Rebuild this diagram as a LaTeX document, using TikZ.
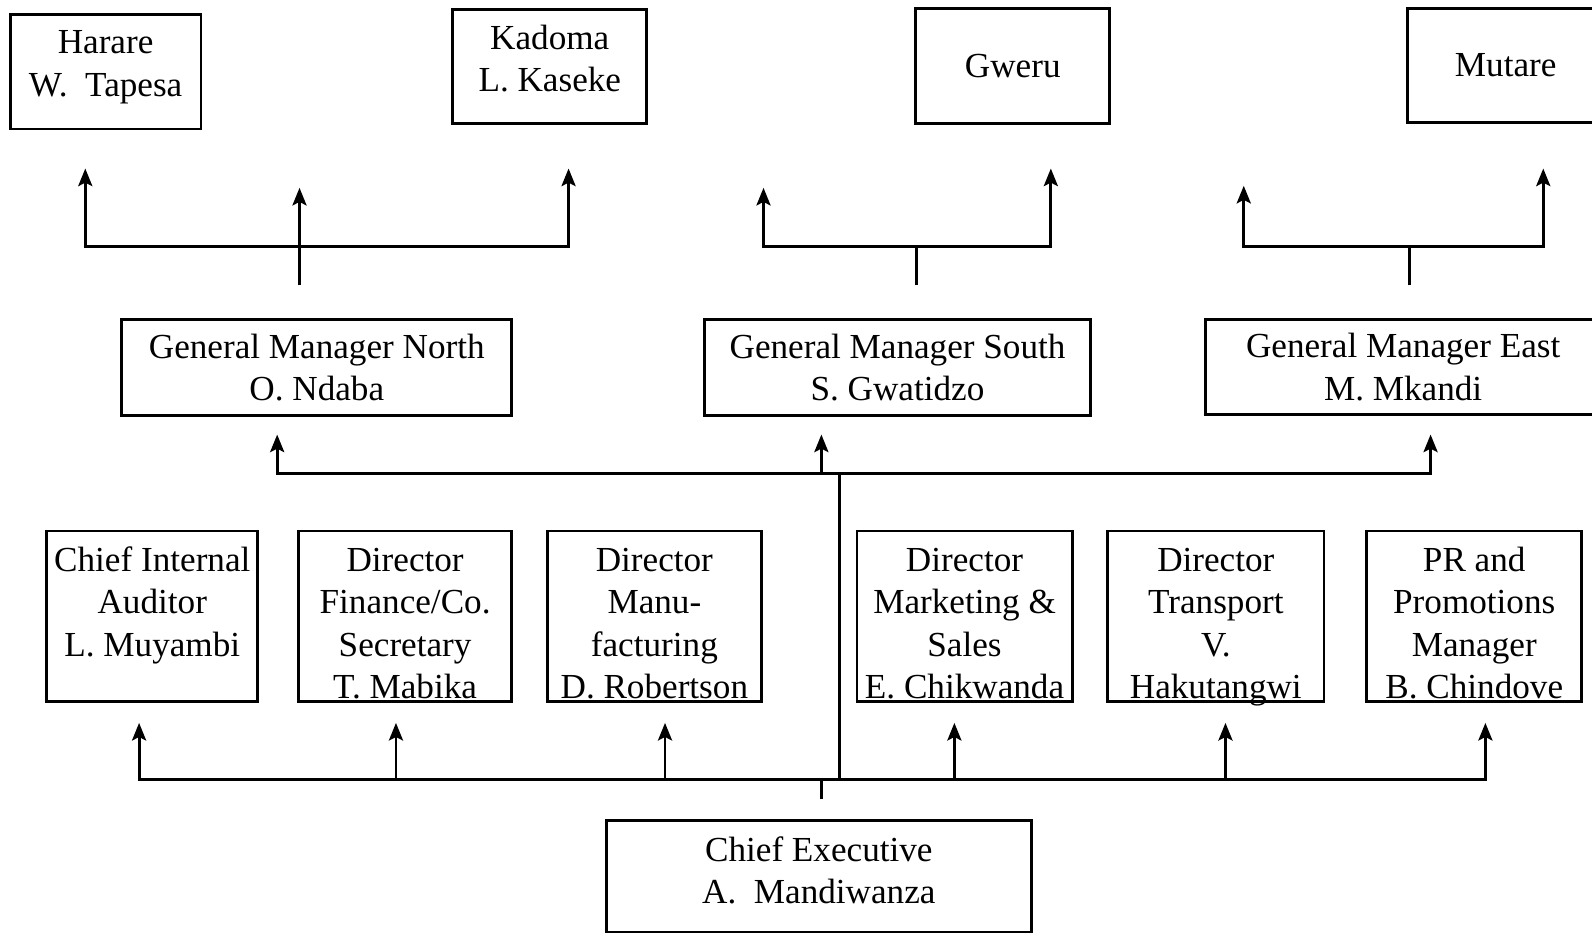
\documentclass[tikz,border=0pt]{standalone}
\usepackage{fontspec}
\setmainfont{Liberation Serif}
\usetikzlibrary{arrows.meta}
\tikzstyle{box}=[draw, thick, shape=rectangle, align=center, inner sep=0pt, font=\fontsize{10}{12.1}\selectfont]
\tikzstyle{link}=[thick]
\tikzset{>={Stealth[length=5pt, width=4pt, inset=1pt]}}
\newcommand{\px}{0.1015mm}

\begin{document}
\begin{tikzpicture}[x=\px, y=-\px]
\useasboundingbox (0,0) rectangle (1568,921);
\clip (0,0) rectangle (1568,921);

% branches
\node[box, text depth=4.6pt, minimum width=188*\px, minimum height=113*\px] (harare) at (104,70.5) {Harare\\W.~~Tapesa};
\node[box, text depth=4.6pt, minimum width=191*\px, minimum height=113*\px] (kadoma) at (541.5,65.5) {Kadoma\\L. Kaseke};
\node[box, minimum width=191*\px, minimum height=114*\px] (gweru) at (997.5,65) {Gweru};
\node[box, minimum width=194*\px, minimum height=113*\px] (mutare) at (1483,64.5) {Mutare};

% general managers
\node[box, minimum width=384*\px, minimum height=94*\px] (gmn) at (312,362) {General Manager North\\O. Ndaba};
\node[box, minimum width=380*\px, minimum height=94*\px] (gms) at (884,362) {General Manager South\\S. Gwatidzo};
\node[box, minimum width=390*\px, minimum height=93*\px] (gme) at (1382,361.5) {General Manager East\\M. Mkandi};

% directors
\foreach \nm/\x/\w/\txt in {cia/150/208/{Chief Internal\\Auditor\\L. Muyambi\\~},
  fin/399/210/{Director\\Finance/Co.\\Secretary\\T. Mabika},
  man/644.5/211/{Director\\Manu-\\facturing\\D. Robertson},
  mkt/950/212/{Director\\Marketing \&\\Sales\\E. Chikwanda},
  trn/1197.5/213/{Director\\Transport\\V.\\Hakutangwi},
  pr/1452/212/{PR and\\Promotions\\Manager\\B. Chindove}}
  \node[box, text height=47pt, text depth=0pt, minimum width=\w*\px, minimum height=168*\px] (\nm) at (\x,607) {\txt};

\node[box, text depth=3.4pt, minimum width=419*\px, minimum height=110*\px] (ceo) at (806.5,863) {Chief Executive\\A.~~Mandiwanza};

% corner points of the connectors
\foreach \nm/\x/\y in {nft/295/281, nmd/295/243, nl/84/243, nr/560/243, nlt/84/166, nmt/295/185, nrt/560/166,
  sft/903/281, smd/903/243, sl/752/243, sr/1035/243, slt/752/185, srt/1035/166,
  eft/1388/281, emd/1388/243, el/1225/243, er/1520/243, elt/1225/183, ert/1520/166,
  gl/273/466, gr/1409/466, glt/273/428, grt/1409/428, gmd/809/466, gmt/809/428,
  tt/827/466, tb/827/768, cft/809/787, cmd/809/768}
  \coordinate (\nm) at (\x,\y);
\foreach \i/\x in {1/137, 2/390, 3/655, 4/940, 5/1207, 6/1463}
{
\coordinate (b\i) at (\x,768);
\coordinate (bt\i) at (\x,712);
}

% north
\draw[link, <->] (nlt) -- (nl) -- (nr) -- (nrt);
\draw[link, ->] (nft) -- (nmt);
% south
\draw[link, <->] (slt) -- (sl) -- (sr) -- (srt);
\draw[link] (sft) -- (smd);
% east
\draw[link, <->] (elt) -- (el) -- (er) -- (ert);
\draw[link] (eft) -- (emd);

% managers
\draw[link, <->] (glt) -- (gl) -- (gr) -- (grt);
\draw[link, ->] (gmd) -- (gmt);
\draw[link] (tt) -- (tb);

% directors
\draw[link, <->] (bt1) -- (b1) -- (b6) -- (bt6);
\foreach \i in {2,...,5}
\draw[link, ->] (b\i) -- (bt\i);
\draw[link] (cft) -- (cmd);
\end{tikzpicture}
\end{document}
